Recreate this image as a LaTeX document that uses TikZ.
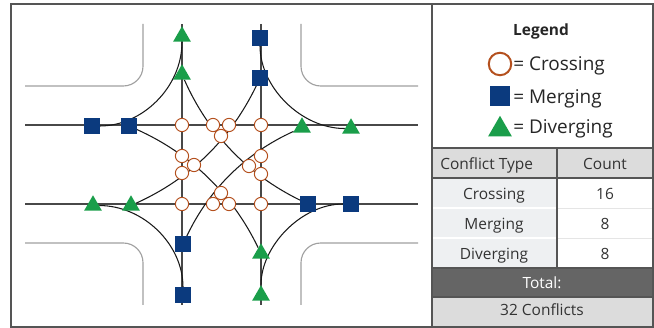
\documentclass[tikz,border=0pt]{standalone}
\usepackage{fontspec}
\setmainfont{Open Sans}
\usetikzlibrary{shapes.geometric,backgrounds}
\definecolor{navy}{HTML}{0B3A7E}
\definecolor{signgreen}{HTML}{1A9E4A}
\definecolor{rust}{HTML}{B4501E}
\definecolor{road}{HTML}{484848}
\definecolor{curb}{HTML}{A0A0A0}
\definecolor{framegray}{HTML}{555555}
\definecolor{cellgray}{HTML}{DCDCDC}
\definecolor{rowgray}{HTML}{EEF0F2}
\definecolor{totalgray}{HTML}{656565}
\tikzset{
	cross/.style={circle,draw=rust,fill=white,line width=0.7pt,inner sep=0pt,minimum size=9.4pt},
	merge/.style={rectangle,fill=navy,inner sep=0pt,minimum size=10.7pt},
	diverge/.style={regular polygon,regular polygon sides=3,fill=signgreen,inner sep=0pt,minimum size=14.6pt,yshift=-1.8pt},
	turn/.style={black!90,line width=0.75pt},
	lane/.style={road,line width=0.9pt},
	curbline/.style={curb,line width=0.8pt,rounded corners=14pt},
	keytext/.style={anchor=base west,inner sep=0pt,text=black!85,font=\fontsize{13.5}{16}\selectfont},
	tabtext/.style={anchor=base,text=black!80,font=\fontsize{11}{13}\selectfont},
}
\begin{document}
\begin{tikzpicture}[x=0.025cm,y=-0.025cm]
	\useasboundingbox (0,0) rectangle (654,328);
	% conflict markers
	\foreach \n/\x/\y in {c1/182/125,c2/213/125,c3/229/125,c4/261/125,c5/221/136,c6/182/156,c7/194/165,c8/182/173,
		c9/261/156,c10/249/166,c11/261/174,c12/221/193,c13/182/204,c14/213/204,c15/229/204,c16/261/204}
		\node[cross] (\n) at (\x,\y) {};
	\foreach \n/\x/\y in {mT1/260/38,mT2/260/78,mL1/92/126,mL2/129/126,mR1/351/204,mR2/308/204,mB1/183/295,mB2/183/244}
		\node[merge] (\n) at (\x,\y) {};
	\foreach \n/\x/\y in {dT1/182/34,dT2/182/72,dR1/351/126,dR2/302/125,dL1/93/203,dL2/131/203,dB1/261/293,dB2/261/251}
		\node[diverge] (\n) at (\x,\y) {};
	\begin{scope}[on background layer]
		\draw[curbline] (25,86)-|(143,24) (418,86)-|(301,24) (25,243)-|(143,305) (418,243)-|(301,305);
		\draw[lane] (25,125)--(418,125) (25,204)--(418,204) (182,24)--(182,305) (261,24)--(261,305);
		% right turns
		\draw[turn] (dT1) .. controls +(0,51) and +(50,0) .. (mL1);
		\draw[turn] (mT1) .. controls +(0,49) and +(-50,0) .. (dR1);
		\draw[turn] (dL1) .. controls +(50,0) and +(0,-51) .. (mB1);
		\draw[turn] (dB1) .. controls +(0,-49) and +(-50,0) .. (mR1);
		% left turns
		\draw[turn,looseness=0.9] (dT2) to[bend right=20] (mR2) (dR2) to[bend right=20] (mB2)
			(dB2) to[bend right=20] (mL2) (dL2) to[bend right=20] (mT2);
	\end{scope}
	% table
	\fill[cellgray] (432,148) rectangle (653,178) (432,297) rectangle (653,327);
	\fill[rowgray] (432,178) rectangle (557,268);
	\fill[totalgray] (432,268) rectangle (653,297);
	\draw[white,line width=0.8pt] (432,208)--(557,208) (432,238)--(557,238);
	\draw[black!10,line width=0.6pt] (557,208)--(653,208) (557,238)--(653,238);
	\draw[framegray,line width=1pt] (432,148)--(653,148) (432,178)--(653,178) (557,148)--(557,268)
		(432,268)--(653,268) (432,297)--(653,297);
	\draw[framegray,line width=1pt] (11,4) rectangle (653,327) (432,4)--(432,327);
	% legend
	\node[anchor=base,text=black!85,font=\bfseries\fontsize{11}{13}\selectfont] (title) at (541,36) {Legend};
	\node[cross,minimum size=16pt,line width=1.4pt] (keyC) at (500,64) {};
	\node[merge,minimum size=14pt] (keyM) at (500,96) {};
	\node[diverge,minimum size=19.5pt,yshift=-0.7pt] (keyD) at (500,126) {};
	\node[keytext] (txtC) at (513,71) {= Crossing};
	\node[keytext] (txtM) at (513,104) {= Merging};
	\node[keytext] (txtD) at (513,134) {= Diverging};
	\node[tabtext,anchor=base west,inner xsep=0pt] (hType) at (440,170) {Conflict Type};
	\node[tabtext] (hCount) at (605,170) {Count};
	\node[tabtext] (rC) at (494,200) {Crossing};
	\node[tabtext] (nC) at (605,200) {16};
	\node[tabtext] (rM) at (494,230) {Merging};
	\node[tabtext] (nM) at (605,230) {8};
	\node[tabtext] (rD) at (494,260) {Diverging};
	\node[tabtext] (nD) at (605,260) {8};
	\node[tabtext,text=white] (total) at (542,288.5) {Total:};
	\node[tabtext] (sum) at (542,316) {32 Conflicts};
\end{tikzpicture}
\end{document}
